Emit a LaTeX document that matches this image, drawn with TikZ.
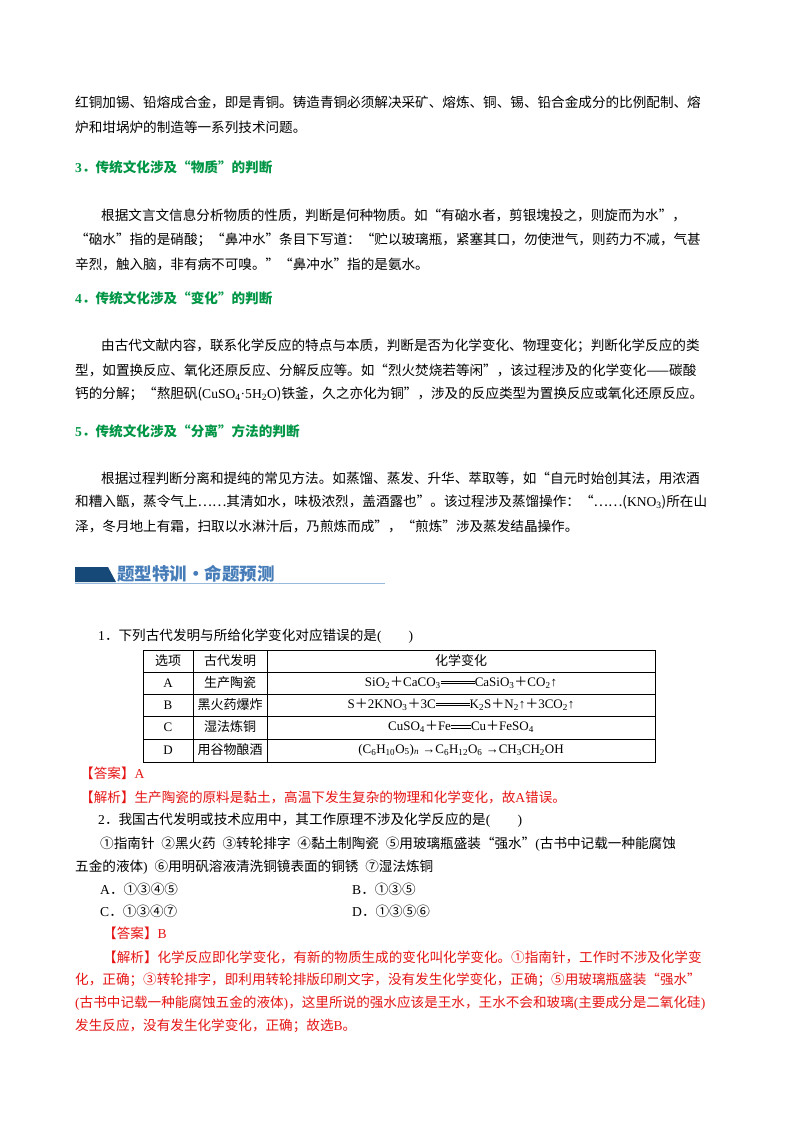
\documentclass[tikz,border=0pt]{standalone}
\usepackage{fontspec}
\setmainfont{Noto Sans CJK SC}
\newfontfamily\lat{Liberation Serif}
\newfontfamily\cj{Noto Sans CJK SC}
\definecolor{hgreen}{RGB}{0,150,70}
\definecolor{ared}{RGB}{230,20,20}
\definecolor{bdark}{RGB}{22,72,120}
\definecolor{btext}{RGB}{70,125,185}
\definecolor{bline}{RGB}{150,185,220}
\newcommand{\longeq}[1]{\makebox[#1][c]{\raisebox{0.22em}{\rule{#1}{0.5pt}}}\hspace{-#1}\makebox[#1][c]{\raisebox{0.42em}{\rule{#1}{0.5pt}}}}
\newcommand{\sbs}[1]{\textsubscript{#1}}
\newcommand{\pl}{{\cj ＋}}
\newcommand{\pd}{{\cj ．}}
\begin{document}
\begin{tikzpicture}[x=1pt,y=-1pt,
  tx/.style={anchor=west,inner sep=0pt,font=\fontsize{13.6}{16}\selectfont},
  hd/.style={tx,text=hgreen,font=\fontsize{13.6}{16}\selectfont\bfseries},
  rd/.style={tx,text=ared},
  cell/.style={inner sep=0pt,font=\fontsize{13}{15}\selectfont}]
\useasboundingbox (0,0) rectangle (800,1132);
\fill[white] (0,0) rectangle (800,1132);
\node[tx] (l1) at (75,102) {红铜加锡、铅熔成合金，即是青铜。铸造青铜必须解决采矿、熔炼、铜、锡、铅合金成分的比例配制、熔};
\node[tx] (l2) at (75,127) {炉和坩埚炉的制造等一系列技术问题。};
\node[hd] (h3) at (75,167) {{\lat 3}\pd 传统文化涉及“物质”的判断};
\node[tx] (p31) at (101,215) {根据文言文信息分析物质的性质，判断是何种物质。如“有硇水者，剪银塊投之，则旋而为水”，};
\node[tx] (p32) at (75,240) {“硇水”指的是硝酸；“鼻冲水”条目下写道：“贮以玻璃瓶，紧塞其口，勿使泄气，则药力不减，气甚};
\node[tx] (p33) at (75,264) {辛烈，触入脑，非有病不可嗅。”“鼻冲水”指的是氨水。};
\node[hd] (h4) at (75,298) {{\lat 4}\pd 传统文化涉及“变化”的判断};
\node[tx] (p41) at (101,346) {由古代文献内容，联系化学反应的特点与本质，判断是否为化学变化、物理变化；判断化学反应的类};
\node[tx] (p42) at (75,370) {型，如置换反应、氧化还原反应、分解反应等。如“烈火焚烧若等闲”，该过程涉及的化学变化——碳酸};
\node[tx] (p43) at (75,394) {钙的分解；“熬胆矾({\lat CuSO\sbs{4}·5H\sbs{2}O})铁釜，久之亦化为铜”，涉及的反应类型为置换反应或氧化还原反应。};
\node[hd] (h5) at (75,431) {{\lat 5}\pd 传统文化涉及“分离”方法的判断};
\node[tx] (p51) at (101,478) {根据过程判断分离和提纯的常见方法。如蒸馏、蒸发、升华、萃取等，如“自元时始创其法，用浓酒};
\node[tx] (p52) at (75,502) {和糟入甑，蒸令气上……其清如水，味极浓烈，盖酒露也”。该过程涉及蒸馏操作：“……({\lat KNO\sbs{3}})所在山};
\node[tx] (p53) at (75,526) {泽，冬月地上有霜，扫取以水淋汁后，乃煎炼而成”，“煎炼”涉及蒸发结晶操作。};
% banner
\fill[bdark] (75,567) -- (108,567) -- (116,582) -- (75,582) -- cycle;
\draw[bline,line width=1pt] (75,583) -- (385,583);
\node[tx,text=btext,font=\fontsize{17.5}{19}\selectfont\bfseries] (ban) at (117,574) {题型特训·命题预测};
% question 1
\node[tx] (q1) at (98,636) {{\lat 1}\pd 下列古代发明与所给化学变化对应错误的是{\lat (\qquad)}};
\draw[line width=0.6pt] (143,650) rectangle (655,762);
\foreach \yy in {672,694,716,739} \draw[line width=0.6pt] (143,\yy) -- (655,\yy);
\draw[line width=0.6pt] (193,650) -- (193,762) (267,650) -- (267,762);
\node[cell] (c00) at (168,661) {选项};
\node[cell] (c01) at (230,661) {古代发明};
\node[cell] (c02) at (461,661) {化学变化};
\node[cell] (c10) at (168,683) {\lat A};
\node[cell] (c11) at (230,683) {生产陶瓷};
\node[cell] (c12) at (461,683) {\lat SiO\sbs{2}\pl CaCO\sbs{3}\longeq{34pt}CaSiO\sbs{3}\pl CO\sbs{2}↑};
\node[cell] (c20) at (168,705) {\lat B};
\node[cell] (c21) at (230,705) {黑火药爆炸};
\node[cell] (c22) at (461,705) {\lat S\pl 2KNO\sbs{3}\pl 3C\longeq{34pt}K\sbs{2}S\pl N\sbs{2}↑\pl 3CO\sbs{2}↑};
\node[cell] (c30) at (168,727) {\lat C};
\node[cell] (c31) at (230,727) {湿法炼铜};
\node[cell] (c32) at (461,727) {\lat CuSO\sbs{4}\pl Fe\longeq{20pt}Cu\pl FeSO\sbs{4}};
\node[cell] (c40) at (168,750) {\lat D};
\node[cell] (c41) at (230,750) {用谷物酿酒};
\node[cell] (c42) at (461,750) {\lat (C\sbs{6}H\sbs{10}O\sbs{5})\sbs{\itshape n} →C\sbs{6}H\sbs{12}O\sbs{6} →CH\sbs{3}CH\sbs{2}OH};
\node[rd] (a1) at (80,773) {【答案】{\lat A}};
\node[rd] (j1) at (80,797) {【解析】生产陶瓷的原料是黏土，高温下发生复杂的物理和化学变化，故{\lat A}错误。};
% question 2
\node[tx] (q2) at (98,820) {{\lat 2}\pd 我国古代发明或技术应用中，其工作原理不涉及化学反应的是{\lat (\qquad)}};
\node[tx] (q21) at (100,844) {①指南针\enspace ②黑火药\enspace ③转轮排字\enspace ④黏土制陶瓷\enspace ⑤用玻璃瓶盛装“强水”{\lat (}古书中记载一种能腐蚀};
\node[tx] (q22) at (75,867) {五金的液体{\lat )}\enspace ⑥用明矾溶液清洗铜镜表面的铜锈\enspace ⑦湿法炼铜};
\node[tx] (oA) at (100,889) {{\lat A}\pd ①③④⑤};
\node[tx] (oB) at (352,889) {{\lat B}\pd ①③⑤};
\node[tx] (oC) at (100,911) {{\lat C}\pd ①③④⑦};
\node[tx] (oD) at (352,911) {{\lat D}\pd ①③⑤⑥};
\node[rd] (a2) at (103,933) {【答案】{\lat B}};
\node[rd] (j21) at (103,957) {【解析】化学反应即化学变化，有新的物质生成的变化叫化学变化。①指南针，工作时不涉及化学变};
\node[rd] (j22) at (75,980) {化，正确；③转轮排字，即利用转轮排版印刷文字，没有发生化学变化，正确；⑤用玻璃瓶盛装“强水”};
\node[rd] (j23) at (75,1003) {{\lat (}古书中记载一种能腐蚀五金的液体{\lat )}，这里所说的强水应该是王水，王水不会和玻璃{\lat (}主要成分是二氧化硅{\lat )}};
\node[rd] (j24) at (75,1026) {发生反应，没有发生化学变化，正确；故选{\lat B}。};
\end{tikzpicture}
\end{document}
